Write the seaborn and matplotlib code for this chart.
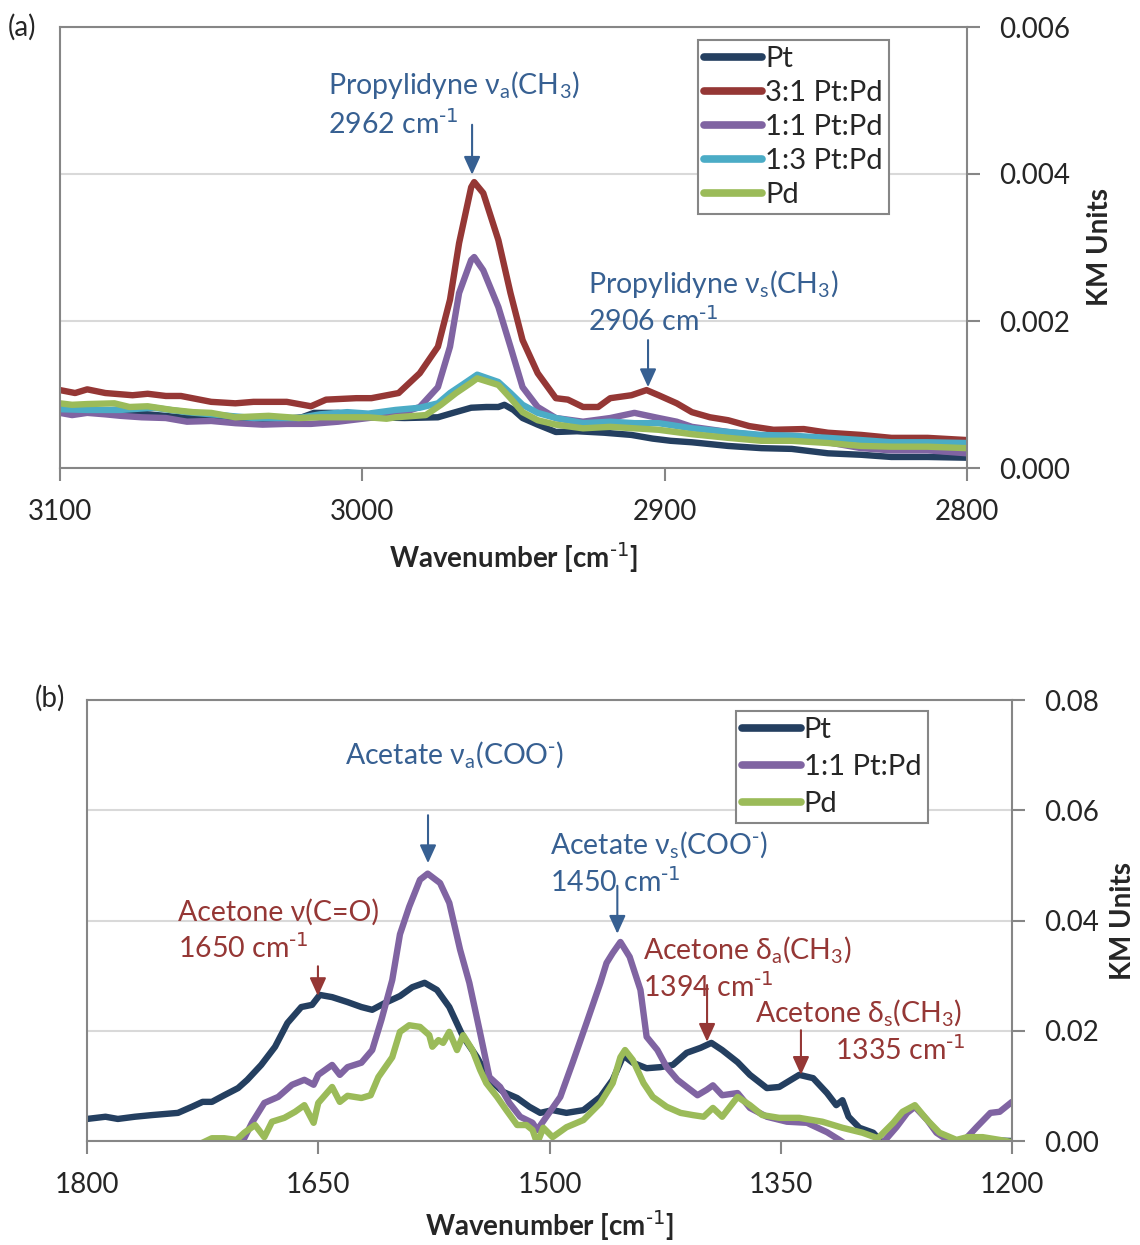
import numpy as np
import pandas as pd
import seaborn as sns
import matplotlib.pyplot as plt

##############################################################################
# panel (a): C-H stretch region, 5 catalysts
##############################################################################
a_pt_wn = [3100, 3091, 3082, 3076, 3068, 3058, 3047, 3036, 3025, 3020, 3016, 3008, 2997, 2986,
           2975, 2970, 2964, 2959, 2955, 2953, 2950, 2947, 2942, 2936, 2929, 2920, 2911, 2904,
           2898, 2891, 2879, 2868, 2858, 2846, 2835, 2825, 2813, 2800]
a_pt_km = [0.00080, 0.00076, 0.00079, 0.00075, 0.00072, 0.00068, 0.00068, 0.00065, 0.00067, 0.00069,
           0.00075, 0.00075, 0.00069, 0.00068, 0.00069, 0.00075, 0.00082, 0.00083, 0.00083, 0.00086,
           0.00079, 0.00068, 0.00059, 0.00049, 0.00050, 0.00048, 0.00045, 0.00040, 0.00037, 0.00035,
           0.00030, 0.00027, 0.00026, 0.00020, 0.00018, 0.00015, 0.00015, 0.00014]

a_31_wn = [3100, 3095, 3091, 3085, 3076, 3071, 3065, 3060, 3050, 3042, 3036, 3025, 3017, 3012,
           3002, 2997, 2988, 2981, 2975, 2971, 2968, 2964, 2963, 2960, 2955, 2951, 2947, 2942,
           2936, 2932, 2927, 2922, 2918, 2911, 2906, 2902, 2896, 2891, 2885, 2879, 2872, 2864,
           2854, 2846, 2835, 2825, 2813, 2800]
a_31_km = [0.00106, 0.00102, 0.00107, 0.00102, 0.00099, 0.00101, 0.00098, 0.00098, 0.00090, 0.00088,
           0.00090, 0.00090, 0.00084, 0.00093, 0.00095, 0.00095, 0.00102, 0.00129, 0.00165, 0.00229,
           0.00306, 0.00382, 0.00389, 0.00374, 0.00310, 0.00238, 0.00174, 0.00129, 0.00095, 0.00093,
           0.00083, 0.00083, 0.00095, 0.00099, 0.00106, 0.00099, 0.00088, 0.00076, 0.00069, 0.00065,
           0.00057, 0.00052, 0.00053, 0.00048, 0.00045, 0.00041, 0.00041, 0.00038]

a_11_wn = [3100, 3096, 3091, 3085, 3080, 3073, 3065, 3058, 3050, 3042, 3033, 3025, 3017, 3008,
           2998, 2989, 2981, 2975, 2971, 2968, 2964, 2963, 2960, 2955, 2951, 2947, 2942, 2936,
           2927, 2918, 2910, 2902, 2896, 2891, 2879, 2868, 2858, 2846, 2835, 2825, 2813, 2800]
a_11_km = [0.00075, 0.00072, 0.00075, 0.00073, 0.00071, 0.00069, 0.00068, 0.00063, 0.00064, 0.00061,
           0.00059, 0.00060, 0.00060, 0.00063, 0.00068, 0.00072, 0.00083, 0.00110, 0.00165, 0.00238,
           0.00283, 0.00287, 0.00269, 0.00219, 0.00165, 0.00110, 0.00083, 0.00068, 0.00063, 0.00068,
           0.00075, 0.00068, 0.00063, 0.00056, 0.00049, 0.00044, 0.00041, 0.00035, 0.00027, 0.00024,
           0.00024, 0.00020]

a_13_wn = [3100, 3091, 3080, 3069, 3058, 3047, 3036, 3021, 3014, 3005, 2998, 2989, 2981, 2975,
           2971, 2967, 2962, 2955, 2951, 2947, 2942, 2936, 2927, 2918, 2910, 2902, 2891, 2879,
           2868, 2858, 2846, 2835, 2825, 2813, 2800]
a_13_km = [0.00080, 0.00079, 0.00079, 0.00082, 0.00076, 0.00072, 0.00068, 0.00068, 0.00073, 0.00076,
           0.00074, 0.00079, 0.00082, 0.00088, 0.00102, 0.00113, 0.00127, 0.00117, 0.00102, 0.00086,
           0.00075, 0.00068, 0.00061, 0.00063, 0.00061, 0.00061, 0.00054, 0.00049, 0.00045, 0.00044,
           0.00041, 0.00038, 0.00035, 0.00035, 0.00034]

a_pd_wn = [3100, 3096, 3091, 3082, 3077, 3071, 3063, 3056, 3050, 3042, 3031, 3021, 3014, 3005,
           2998, 2992, 2989, 2979, 2974, 2969, 2964, 2962, 2955, 2951, 2947, 2942, 2936, 2927,
           2918, 2910, 2902, 2891, 2879, 2868, 2858, 2846, 2835, 2825, 2813, 2800]
a_pd_km = [0.00088, 0.00086, 0.00087, 0.00088, 0.00083, 0.00084, 0.00079, 0.00076, 0.00075, 0.00069,
           0.00071, 0.00068, 0.00069, 0.00069, 0.00069, 0.00067, 0.00069, 0.00072, 0.00086, 0.00102,
           0.00116, 0.00122, 0.00113, 0.00095, 0.00076, 0.00065, 0.00059, 0.00054, 0.00056, 0.00054,
           0.00052, 0.00046, 0.00041, 0.00037, 0.00037, 0.00034, 0.00030, 0.00029, 0.00029, 0.00027]

##############################################################################
# panel (b): fingerprint region, 3 catalysts
##############################################################################
b_pt_wn = [1800, 1788, 1780, 1769, 1758, 1741, 1732, 1725, 1719, 1711, 1702, 1696, 1687, 1678,
           1670, 1661, 1654, 1649, 1641, 1631, 1622, 1615, 1607, 1597, 1589, 1581, 1573, 1565,
           1556, 1547, 1539, 1530, 1521, 1513, 1506, 1498, 1489, 1478, 1467, 1459, 1452, 1446,
           1437, 1428, 1420, 1411, 1402, 1395, 1388, 1378, 1370, 1359, 1351, 1338, 1329, 1320,
           1314, 1310, 1306, 1299, 1290, 1284, 1275, 1260, 1245, 1230, 1218, 1210, 1200]
b_pt_km = [0.0040, 0.0044, 0.0040, 0.0044, 0.0047, 0.0051, 0.0062, 0.0071, 0.0071, 0.0083,
           0.0096, 0.0111, 0.0138, 0.0171, 0.0214, 0.0243, 0.0247, 0.0265, 0.0261, 0.0252,
           0.0243, 0.0238, 0.0250, 0.0263, 0.0279, 0.0287, 0.0274, 0.0243, 0.0189, 0.0152,
           0.0111, 0.0089, 0.0078, 0.0062, 0.0051, 0.0056, 0.0051, 0.0056, 0.0080, 0.0111,
           0.0155, 0.0142, 0.0132, 0.0134, 0.0138, 0.0160, 0.0169, 0.0178, 0.0165, 0.0143,
           0.0120, 0.0096, 0.0098, 0.0120, 0.0114, 0.0087, 0.0065, 0.0074, 0.0044, 0.0024,
           0.0015, -0.0004, -0.0015, -0.0025, -0.0025, -0.0012, 0.0002, 0.0001, 0.0000]

b_11_wn = [1800, 1760, 1720, 1703, 1698, 1693, 1685, 1676, 1667, 1659, 1653, 1650, 1641, 1636,
           1631, 1622, 1615, 1609, 1602, 1597, 1591, 1584, 1579, 1571, 1565, 1558, 1552, 1545,
           1539, 1532, 1526, 1519, 1511, 1508, 1502, 1493, 1485, 1476, 1467, 1463, 1459, 1454,
           1448, 1441, 1437, 1430, 1424, 1417, 1411, 1404, 1398, 1394, 1388, 1378, 1370, 1359,
           1346, 1333, 1320, 1312, 1300, 1290, 1284, 1275, 1268, 1263, 1255, 1249, 1242, 1236,
           1229, 1223, 1214, 1208, 1200]
b_11_km = [-0.0040, -0.0030, -0.0015, -0.0003, 0.0005, 0.0033, 0.0069, 0.0080, 0.0102, 0.0111,
           0.0102, 0.0120, 0.0138, 0.0120, 0.0134, 0.0142, 0.0165, 0.0220, 0.0292, 0.0375,
           0.0425, 0.0474, 0.0485, 0.0468, 0.0432, 0.0347, 0.0287, 0.0196, 0.0116, 0.0098,
           0.0069, 0.0044, 0.0033, 0.0020, 0.0044, 0.0080, 0.0142, 0.0214, 0.0287, 0.0323,
           0.0341, 0.0361, 0.0334, 0.0274, 0.0189, 0.0165, 0.0134, 0.0111, 0.0098, 0.0083,
           0.0093, 0.0101, 0.0083, 0.0087, 0.0060, 0.0044, 0.0035, 0.0033, 0.0016, 0.0002,
           -0.0020, -0.0010, -0.0004, 0.0025, 0.0051, 0.0062, 0.0038, 0.0015, 0.0002, -0.0010,
           0.0007, 0.0025, 0.0051, 0.0053, 0.0071]

b_pd_wn = [1800, 1760, 1740, 1728, 1719, 1711, 1703, 1698, 1691, 1685, 1680, 1672, 1665, 1659,
           1653, 1650, 1641, 1636, 1631, 1622, 1616, 1611, 1602, 1597, 1591, 1584, 1578, 1576,
           1572, 1569, 1565, 1560, 1556, 1550, 1545, 1541, 1534, 1528, 1521, 1515, 1511, 1508,
           1504, 1498, 1489, 1478, 1467, 1459, 1454, 1451, 1446, 1439, 1433, 1424, 1415, 1407,
           1400, 1394, 1388, 1378, 1370, 1362, 1351, 1338, 1323, 1310, 1297, 1287, 1277, 1271,
           1263, 1255, 1247, 1236, 1229, 1219, 1208, 1200]
b_pd_km = [-0.0030, -0.0020, -0.0010, -0.0007, 0.0005, 0.0005, 0.0002, 0.0015, 0.0029, 0.0007,
           0.0035, 0.0042, 0.0053, 0.0065, 0.0033, 0.0069, 0.0098, 0.0071, 0.0082, 0.0078,
           0.0083, 0.0116, 0.0152, 0.0198, 0.0210, 0.0207, 0.0192, 0.0171, 0.0183, 0.0178,
           0.0198, 0.0165, 0.0192, 0.0165, 0.0129, 0.0105, 0.0080, 0.0056, 0.0029, 0.0029,
           0.0020, -0.0004, 0.0024, 0.0007, 0.0025, 0.0038, 0.0069, 0.0105, 0.0152, 0.0165,
           0.0147, 0.0105, 0.0080, 0.0062, 0.0051, 0.0047, 0.0044, 0.0060, 0.0044, 0.0080,
           0.0065, 0.0047, 0.0042, 0.0042, 0.0035, 0.0024, 0.0015, 0.0005, 0.0033, 0.0053,
           0.0065, 0.0038, 0.0015, 0.0002, 0.0007, 0.0007, 0.0002, -0.0002]

a_ticks_x = [3100, 3000, 2900, 2800]
a_ticks_y = [0.000, 0.002, 0.004, 0.006]
b_ticks_x = [1800, 1650, 1500, 1350, 1200]
b_ticks_y = [0.00, 0.02, 0.04, 0.06, 0.08]

#colors (excel office palette)
colors = {"Pt": "#243F60", "3:1 Pt:Pd": "#953735", "1:1 Pt:Pd": "#8064A2",
          "1:3 Pt:Pd": "#4BACC6", "Pd": "#9BBB59"}
BLUE_TXT = "#376092"
RED_TXT = "#953735"
GRAY = "#868686"
CM = "cm$^{\\text{-1}}$"


def long_df(series):
    frames = []
    for name, wn, km in series:
        frames.append(pd.DataFrame({"wn": wn, "km": km, "sample": name}))
    return pd.concat(frames, ignore_index=True)


df_a = long_df([("Pt", a_pt_wn, a_pt_km), ("3:1 Pt:Pd", a_31_wn, a_31_km),
                ("1:1 Pt:Pd", a_11_wn, a_11_km), ("1:3 Pt:Pd", a_13_wn, a_13_km),
                ("Pd", a_pd_wn, a_pd_km)])
df_b = long_df([("Pt", b_pt_wn, b_pt_km), ("1:1 Pt:Pd", b_11_wn, b_11_km),
                ("Pd", b_pd_wn, b_pd_km)])

sns.set_theme(style="white")
plt.rcParams["font.family"] = ["Lato", "DejaVu Sans"]
plt.rcParams["mathtext.default"] = "regular"

fig = plt.figure(figsize=(11.4, 12.45), dpi=100)
ax_a = fig.add_axes([60 / 1140, 1 - 468 / 1245, 907 / 1140, 441 / 1245])
ax_b = fig.add_axes([87 / 1140, 1 - 1141 / 1245, 925 / 1140, 441 / 1245])


def style_axes(ax, df, order, xlim, ylim, xt, yt, yfmt, leg_anchor, leg_spacing,
               xlabpad, ylabpad):
    sns.lineplot(data=df, x="wn", y="km", hue="sample", hue_order=order,
                 palette=[colors[o] for o in order], linewidth=4.6, estimator=None,
                 sort=False, ax=ax, solid_capstyle="round", solid_joinstyle="round")
    ax.set_xlim(*xlim)
    ax.set_ylim(*ylim)
    ax.set_xticks(xt)
    ax.set_xticklabels([str(t) for t in xt])
    ax.set_yticks(yt)
    ax.set_yticklabels([yfmt.format(t) for t in yt])
    ax.yaxis.tick_right()
    ax.yaxis.set_label_position("right")
    ax.tick_params(axis="x", direction="out", length=9, width=1.5, color=GRAY,
                   labelsize=20, pad=13, bottom=True)
    ax.tick_params(axis="y", direction="out", length=9, width=1.5, color=GRAY,
                   labelsize=20, pad=14, right=True, left=False)
    for sp in ax.spines.values():
        sp.set_color(GRAY)
        sp.set_linewidth(1.5)
    ax.yaxis.grid(True, color="#D9D9D9", linewidth=1.5)
    ax.set_axisbelow(True)
    ax.set_xlabel("Wavenumber [" + CM + "]", fontsize=20, fontweight="bold", labelpad=xlabpad)
    ax.set_ylabel("KM Units", fontsize=20, fontweight="bold", labelpad=ylabpad)

    handles, labels = ax.get_legend_handles_labels()
    leg = ax.legend(handles, labels, loc="upper left", bbox_to_anchor=leg_anchor,
                    frameon=True, fancybox=False, framealpha=1, edgecolor=GRAY,
                    fontsize=21, handlelength=2.0, handletextpad=0.1,
                    labelspacing=leg_spacing, borderpad=0.22, borderaxespad=0)
    leg.get_frame().set_linewidth(1.5)
    for h in leg.get_lines():
        h.set_linewidth(5.5)
        h.set_solid_capstyle("round")


def label_arrow(ax, x, y0, y1, color):
    ax.annotate("", xy=(x, y1), xytext=(x, y0),
                arrowprops=dict(arrowstyle="-|>,head_length=0.55,head_width=0.25",
                                color=color, lw=1.5, mutation_scale=20,
                                shrinkA=0, shrinkB=0))


style_axes(ax_a, df_a, ["Pt", "3:1 Pt:Pd", "1:1 Pt:Pd", "1:3 Pt:Pd", "Pd"],
           (3100, 2800), (0, 0.006), a_ticks_x, a_ticks_y, "{:.3f}",
           (0.703, 0.9705), 0.27, 12, 12)
style_axes(ax_b, df_b, ["Pt", "1:1 Pt:Pd", "Pd"],
           (1800, 1200), (0, 0.08), b_ticks_x, b_ticks_y, "{:.2f}",
           (0.7016, 0.975), 0.37, 8, 8)

# annotations panel (a)
ax_a.text(3011.3, 0.00521, "Propylidyne ν$_{a}$(CH$_{3}$)", color=BLUE_TXT, fontsize=20.5, va="center")
ax_a.text(3011.3, 0.00468, "2962 " + CM, color=BLUE_TXT, fontsize=20.5, va="center")
label_arrow(ax_a, 2963.7, 0.00467, 0.00399, BLUE_TXT)
ax_a.text(2925.3, 0.00250, "Propylidyne ν$_{s}$(CH$_{3}$)", color=BLUE_TXT, fontsize=20.5, va="center")
ax_a.text(2925.3, 0.00199, "2906 " + CM, color=BLUE_TXT, fontsize=20.5, va="center")
label_arrow(ax_a, 2905.5, 0.00174, 0.00110, BLUE_TXT)

# annotations panel (b)
ax_b.text(1632.6, 0.0702, "Acetate ν$_{a}$(COO$^{\\text{-}}$)", color=BLUE_TXT, fontsize=20.5, va="center")
label_arrow(ax_b, 1578.8, 0.0591, 0.0504, BLUE_TXT)
ax_b.text(1741, 0.0415, "Acetone ν(C=O)", color=RED_TXT, fontsize=20.5, va="center")
ax_b.text(1741, 0.0350, "1650 " + CM, color=RED_TXT, fontsize=20.5, va="center")
label_arrow(ax_b, 1650.2, 0.0317, 0.0263, RED_TXT)
ax_b.text(1499.7, 0.0537, "Acetate ν$_{s}$(COO$^{\\text{-}}$)", color=BLUE_TXT, fontsize=20.5, va="center")
ax_b.text(1499.7, 0.0470, "1450 " + CM, color=BLUE_TXT, fontsize=20.5, va="center")
label_arrow(ax_b, 1456, 0.0463, 0.0376, BLUE_TXT)
ax_b.text(1439.4, 0.0347, "Acetone δ$_{a}$(CH$_{3}$)", color=RED_TXT, fontsize=20.5, va="center")
ax_b.text(1439.4, 0.0278, "1394 " + CM, color=RED_TXT, fontsize=20.5, va="center")
label_arrow(ax_b, 1397.8, 0.0283, 0.0180, RED_TXT)
ax_b.text(1366.7, 0.0234, "Acetone δ$_{s}$(CH$_{3}$)", color=RED_TXT, fontsize=20.5, va="center")
ax_b.text(1314.8, 0.0165, "1335 " + CM, color=RED_TXT, fontsize=20.5, va="center")
label_arrow(ax_b, 1336.9, 0.0201, 0.0120, RED_TXT)

fig.text(8 / 1140, 1 - 27 / 1245, "(a)", fontsize=20, va="center", ha="left")
fig.text(35 / 1140, 1 - 698 / 1245, "(b)", fontsize=20, va="center", ha="left")

fig.savefig("out.png", dpi=100)
